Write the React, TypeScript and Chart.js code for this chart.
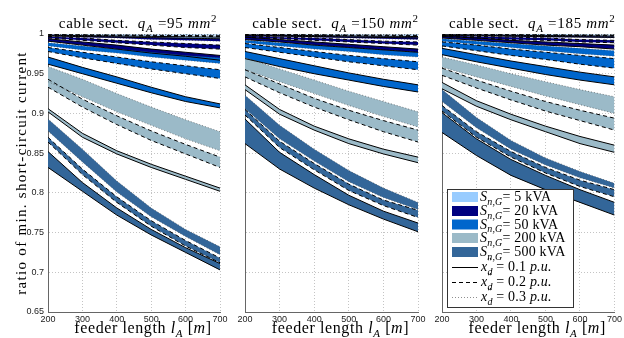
import React, { useEffect, useRef } from 'react';
import { Chart, registerables } from 'chart.js';

Chart.register(...registerables);

// ---------------- data ----------------
const feederLength = [200, 300, 400, 500, 600, 700];
const xTickLabels = ['200', '300', '400', '500', '600', '700'];
const yTickLabels = ['0.65', '0.7', '0.75', '0.8', '0.85', '0.9', '0.95', '1'];
const cableSections = ['95', '150', '185'];
const generatorSizes = ['5', '20', '50', '200', '500'];
const reactances = ['0.1', '0.2', '0.3'];

// rows: [xd=0.1 upper, xd=0.1 lower, xd=0.2 upper, xd=0.2 lower, xd=0.3 upper, xd=0.3 lower]
const q95_5kVA = [
  [0.9985, 0.998, 0.9975, 0.997, 0.9965, 0.996],
  [0.9975, 0.9968, 0.9961, 0.9954, 0.9947, 0.994],
  [0.9993, 0.999, 0.9987, 0.9984, 0.9981, 0.9978],
  [0.9987, 0.9983, 0.9979, 0.9975, 0.9971, 0.9967],
  [0.9998, 0.9997, 0.9996, 0.9995, 0.9994, 0.9993],
  [0.9995, 0.9993, 0.9991, 0.9989, 0.9987, 0.9985],
];
const q95_20kVA = [
  [0.994, 0.99, 0.986, 0.981, 0.977, 0.973],
  [0.991, 0.986, 0.981, 0.976, 0.972, 0.967],
  [0.997, 0.995, 0.992, 0.99, 0.988, 0.986],
  [0.995, 0.992, 0.989, 0.986, 0.983, 0.981],
  [0.999, 0.998, 0.997, 0.996, 0.995, 0.994],
  [0.998, 0.996, 0.995, 0.993, 0.992, 0.991],
];
const q95_50kVA = [
  [0.971, 0.958, 0.946, 0.933, 0.921, 0.912],
  [0.962, 0.95, 0.938, 0.926, 0.915, 0.907],
  [0.983, 0.977, 0.971, 0.965, 0.96, 0.955],
  [0.978, 0.97, 0.963, 0.956, 0.95, 0.944],
  [0.989, 0.985, 0.981, 0.977, 0.973, 0.97],
  [0.985, 0.98, 0.976, 0.971, 0.967, 0.963],
];
const q95_200kVA = [
  [0.906, 0.875, 0.853, 0.836, 0.821, 0.806],
  [0.902, 0.87, 0.849, 0.832, 0.817, 0.802],
  [0.943, 0.918, 0.897, 0.878, 0.861, 0.845],
  [0.933, 0.908, 0.886, 0.866, 0.849, 0.832],
  [0.959, 0.943, 0.925, 0.908, 0.892, 0.877],
  [0.94, 0.921, 0.902, 0.885, 0.868, 0.853],
];
const q95_500kVA = [
  [0.852, 0.813, 0.781, 0.754, 0.731, 0.711],
  [0.832, 0.802, 0.772, 0.747, 0.725, 0.703],
  [0.87, 0.83, 0.795, 0.765, 0.74, 0.718],
  [0.864, 0.823, 0.788, 0.758, 0.733, 0.712],
  [0.893, 0.855, 0.815, 0.781, 0.754, 0.732],
  [0.878, 0.839, 0.801, 0.77, 0.745, 0.722],
];

const q150_5kVA = [
  [0.9988, 0.9984, 0.998, 0.9976, 0.9972, 0.9968],
  [0.998, 0.9974, 0.9968, 0.9962, 0.9956, 0.995],
  [0.9994, 0.9992, 0.999, 0.9987, 0.9985, 0.9983],
  [0.999, 0.9987, 0.9984, 0.998, 0.9977, 0.9974],
  [0.9998, 0.9997, 0.9996, 0.9996, 0.9995, 0.9994],
  [0.9996, 0.9994, 0.9993, 0.9991, 0.999, 0.9988],
];
const q150_20kVA = [
  [0.996, 0.993, 0.99, 0.987, 0.984, 0.981],
  [0.993, 0.99, 0.986, 0.983, 0.98, 0.977],
  [0.998, 0.996, 0.995, 0.993, 0.991, 0.99],
  [0.996, 0.994, 0.992, 0.99, 0.988, 0.986],
  [0.999, 0.999, 0.998, 0.997, 0.997, 0.996],
  [0.998, 0.997, 0.996, 0.995, 0.994, 0.993],
];
const q150_50kVA = [
  [0.978, 0.969, 0.96, 0.951, 0.943, 0.936],
  [0.969, 0.959, 0.95, 0.942, 0.934, 0.927],
  [0.988, 0.983, 0.978, 0.973, 0.969, 0.965],
  [0.983, 0.977, 0.971, 0.965, 0.96, 0.955],
  [0.992, 0.989, 0.986, 0.983, 0.98, 0.977],
  [0.989, 0.985, 0.981, 0.978, 0.974, 0.971],
];
const q150_200kVA = [
  [0.936, 0.905, 0.884, 0.868, 0.855, 0.845],
  [0.93, 0.899, 0.879, 0.862, 0.849, 0.838],
  [0.955, 0.937, 0.919, 0.904, 0.891, 0.879],
  [0.946, 0.926, 0.908, 0.892, 0.877, 0.864],
  [0.97, 0.956, 0.942, 0.928, 0.915, 0.902],
  [0.955, 0.94, 0.925, 0.91, 0.896, 0.883],
];
const q150_500kVA = [
  [0.893, 0.851, 0.823, 0.797, 0.777, 0.762],
  [0.862, 0.83, 0.806, 0.785, 0.767, 0.751],
  [0.905, 0.865, 0.837, 0.811, 0.791, 0.778],
  [0.898, 0.857, 0.829, 0.803, 0.784, 0.769],
  [0.923, 0.885, 0.855, 0.828, 0.806, 0.788],
  [0.906, 0.868, 0.84, 0.814, 0.794, 0.779],
];

const q185_5kVA = [
  [0.999, 0.9987, 0.9984, 0.998, 0.9977, 0.9974],
  [0.9983, 0.9978, 0.9973, 0.9968, 0.9963, 0.9958],
  [0.9995, 0.9993, 0.9991, 0.9989, 0.9987, 0.9985],
  [0.9991, 0.9988, 0.9986, 0.9983, 0.998, 0.9977],
  [0.9999, 0.9998, 0.9997, 0.9996, 0.9996, 0.9995],
  [0.9996, 0.9995, 0.9994, 0.9992, 0.9991, 0.999],
];
const q185_20kVA = [
  [0.997, 0.995, 0.992, 0.99, 0.988, 0.986],
  [0.995, 0.992, 0.989, 0.986, 0.984, 0.981],
  [0.998, 0.997, 0.996, 0.995, 0.993, 0.992],
  [0.997, 0.995, 0.993, 0.992, 0.99, 0.989],
  [0.9995, 0.999, 0.9985, 0.998, 0.9975, 0.997],
  [0.999, 0.998, 0.997, 0.996, 0.996, 0.995],
];
const q185_50kVA = [
  [0.982, 0.974, 0.966, 0.959, 0.952, 0.946],
  [0.974, 0.965, 0.957, 0.949, 0.942, 0.936],
  [0.99, 0.986, 0.981, 0.977, 0.973, 0.969],
  [0.985, 0.979, 0.973, 0.968, 0.962, 0.957],
  [0.994, 0.991, 0.988, 0.985, 0.982, 0.979],
  [0.991, 0.987, 0.983, 0.979, 0.975, 0.972],
];
const q185_200kVA = [
  [0.939, 0.916, 0.899, 0.884, 0.871, 0.86],
  [0.931, 0.909, 0.892, 0.877, 0.862, 0.851],
  [0.957, 0.942, 0.928, 0.915, 0.904, 0.894],
  [0.948, 0.932, 0.917, 0.903, 0.891, 0.879],
  [0.971, 0.961, 0.95, 0.94, 0.93, 0.921],
  [0.958, 0.946, 0.934, 0.922, 0.911, 0.9],
];
const q185_500kVA = [
  [0.901, 0.868, 0.842, 0.822, 0.804, 0.788],
  [0.876, 0.847, 0.822, 0.804, 0.788, 0.772],
  [0.91, 0.877, 0.852, 0.832, 0.816, 0.804],
  [0.903, 0.87, 0.845, 0.825, 0.808, 0.795],
  [0.93, 0.895, 0.866, 0.844, 0.827, 0.812],
  [0.915, 0.882, 0.855, 0.835, 0.819, 0.806],
];

const panelData = [
  [q95_5kVA, q95_20kVA, q95_50kVA, q95_200kVA, q95_500kVA],
  [q150_5kVA, q150_20kVA, q150_50kVA, q150_200kVA, q150_500kVA],
  [q185_5kVA, q185_20kVA, q185_50kVA, q185_200kVA, q185_500kVA],
];

// ---------------- styles ----------------
const bandColors = ['#99CCFF', '#000080', '#0066CC', '#9BBAC8', '#336699'];
const edgeStyles = [
  { dash: [] as number[], color: '#000000', width: 1 },
  { dash: [4, 3], color: '#000000', width: 1 },
  { dash: [1, 2], color: 'rgba(50,50,50,0.55)', width: 1 },
];
const SERIF = '"Liberation Serif", "Times New Roman", serif';
const SANS = '"Liberation Sans", Arial, sans-serif';

const panels = [
  { left: 0, width: 232, yW: 48, padRight: 12 },
  { left: 232, width: 198, yW: 13, padRight: 12 },
  { left: 430, width: 194, yW: 12, padRight: 5 },
];
const H = 338;
const TOP = 34;
const XAXIS_H = 26;

type Seg = { t: string; i?: boolean; sub?: boolean; sup?: boolean; over?: string };

function drawRich(
  ctx: CanvasRenderingContext2D,
  segs: Seg[],
  x: number,
  y: number,
  size: number,
  align: 'left' | 'center',
  spacing = 0
) {
  const small = Math.round(size * 0.7);
  const c: any = ctx;
  ctx.save();
  c.letterSpacing = spacing + 'px';
  const fontFor = (s: Seg) => `${s.i ? 'italic ' : ''}${s.sub || s.sup ? small : size}px ${SERIF}`;
  const widths = segs.map((s) => {
    ctx.font = fontFor(s);
    let w = ctx.measureText(s.t).width;
    if (s.over) {
      ctx.font = `${small}px ${SERIF}`;
      w = Math.max(w, ctx.measureText(s.over).width);
    }
    return w;
  });
  const total = widths.reduce((a, b) => a + b, 0);
  let cx = align === 'center' ? x - total / 2 : x;
  ctx.fillStyle = '#000';
  ctx.textAlign = 'left';
  ctx.textBaseline = 'alphabetic';
  segs.forEach((s, i) => {
    ctx.font = fontFor(s);
    const dy = s.sub ? size * 0.28 : s.sup ? -size * 0.42 : 0;
    ctx.fillText(s.t, cx, y + dy);
    if (s.over) {
      ctx.font = `${small}px ${SERIF}`;
      ctx.fillText(s.over, cx, y - size * 0.45);
    }
    cx += widths[i];
  });
  ctx.restore();
}

function drawLegend(ctx: CanvasRenderingContext2D, ox: number) {
  ctx.save();
  ctx.translate(-ox, 0);
  const bx = 447, by = 189, bw = 126, bh = 118;
  ctx.fillStyle = '#ffffff';
  ctx.fillRect(bx, by, bw, bh);
  ctx.strokeStyle = '#333333';
  ctx.lineWidth = 1;
  ctx.setLineDash([]);
  ctx.strokeRect(bx + 0.5, by + 0.5, bw, bh);
  const rowY = [197, 211, 224.5, 238, 252, 267, 282, 297];
  generatorSizes.forEach((g, i) => {
    ctx.fillStyle = bandColors[i];
    ctx.fillRect(452, rowY[i] - 5, 26, 10);
    drawRich(ctx, [{ t: 'S', i: true }, { t: 'n,G', i: true, sub: true }, { t: '= ' + g + ' kVA' }], 480, rowY[i] + 4, 14, 'left', 0.2);
  });
  reactances.forEach((r, k) => {
    const y = rowY[5 + k];
    const st = edgeStyles[k];
    ctx.strokeStyle = st.color;
    ctx.lineWidth = st.width;
    ctx.setLineDash(st.dash);
    ctx.beginPath();
    ctx.moveTo(452, y + 0.5);
    ctx.lineTo(478, y + 0.5);
    ctx.stroke();
    ctx.setLineDash([]);
    drawRich(
      ctx,
      [{ t: 'x', i: true }, { t: 'd', i: true, sub: true, over: '\u2033' }, { t: ' = ' + r + ' ' }, { t: 'p.u.', i: true }],
      481,
      y + 4,
      14,
      'left',
      0.2
    );
  });
  ctx.restore();
}

function buildDatasets(p: number) {
  const ds: any[] = [];
  for (let g = 4; g >= 0; g--) {
    const rows = panelData[p][g];
    for (let k = 0; k < 3; k++) {
      const st = edgeStyles[k];
      const upper = rows[2 * k];
      const lower = rows[2 * k + 1];
      const common = {
        borderColor: st.color,
        borderWidth: st.width,
        borderDash: st.dash,
        pointRadius: 0,
        tension: 0,
        backgroundColor: bandColors[g],
      };
      ds.push({ ...common, data: feederLength.map((x, i) => ({ x, y: upper[i] })), fill: '+1' });
      ds.push({ ...common, data: feederLength.map((x, i) => ({ x, y: lower[i] })), fill: false });
    }
  }
  return ds;
}

function Panel({ idx }: { idx: number }) {
  const ref = useRef<HTMLCanvasElement | null>(null);
  const cfg = panels[idx];
  useEffect(() => {
    if (!ref.current) return;
    const textPlugin = {
      id: 'panelTexts' + idx,
      afterDraw(chart: any) {
        const { ctx, chartArea } = chart;
        const cx = (chartArea.left + chartArea.right) / 2;
        drawRich(
          ctx,
          [{ t: 'cable sect.  ' }, { t: 'q', i: true }, { t: 'A', i: true, sub: true }, { t: ' =' + cableSections[idx] + ' ' }, { t: 'mm', i: true }, { t: '2', sup: true }],
          cx + 4,
          28,
          15,
          'center',
          0.7
        );
        drawRich(
          ctx,
          [{ t: 'feeder length ' }, { t: 'l', i: true }, { t: 'A', i: true, sub: true }, { t: ' [' }, { t: 'm', i: true }, { t: ']' }],
          cx + 9,
          333,
          16,
          'center',
          0.6
        );
        if (idx === 0) {
          ctx.save();
          ctx.translate(26, (chartArea.top + chartArea.bottom) / 2);
          ctx.rotate(-Math.PI / 2);
          (ctx as any).letterSpacing = '1.3px';
          ctx.font = `15px ${SERIF}`;
          ctx.fillStyle = '#000';
          ctx.textAlign = 'center';
          ctx.textBaseline = 'alphabetic';
          ctx.fillText('ratio of min. short-circuit current', 0, 0);
          ctx.restore();
        }
        if (idx === 2) drawLegend(ctx, cfg.left);
      },
    };
    const chart = new Chart(ref.current, {
      type: 'line',
      data: { datasets: buildDatasets(idx) },
      options: {
        animation: false,
        responsive: false,
        maintainAspectRatio: false,
        events: [],
        layout: { padding: { top: TOP, right: cfg.padRight, left: 0, bottom: 0 } },
        plugins: {
          legend: { display: false },
          tooltip: { enabled: false },
          filler: { drawTime: 'beforeDatasetsDraw', propagate: false },
        } as any,
        scales: {
          x: {
            type: 'linear',
            min: 200,
            max: 700,
            afterFit: (s: any) => {
              s.height = XAXIS_H;
            },
            afterBuildTicks: (s: any) => {
              s.ticks = feederLength.map((v) => ({ value: v }));
            },
            ticks: {
              padding: 2,
              color: '#222',
              font: { family: SANS, size: 9 },
              maxRotation: 0,
              autoSkip: false,
              callback: (v: any) => {
                const i = feederLength.indexOf(Number(v));
                return i >= 0 ? xTickLabels[i] : '';
              },
            },
            grid: { color: '#c4c4c4', lineWidth: 1, drawTicks: false },
            border: { display: true, color: '#666666', width: 1, dash: [1, 2] },
          },
          y: {
            type: 'linear',
            min: 0.65,
            max: 1,
            afterFit: (s: any) => {
              s.width = cfg.yW;
            },
            afterBuildTicks: (s: any) => {
              s.ticks = yTickLabels.map((l) => ({ value: parseFloat(l) }));
            },
            ticks: {
              display: idx === 0,
              padding: 4,
              color: '#222',
              font: { family: SANS, size: 9 },
              autoSkip: false,
              callback: (v: any) => {
                const i = yTickLabels.findIndex((l) => Math.abs(parseFloat(l) - Number(v)) < 1e-6);
                return i >= 0 ? yTickLabels[i] : '';
              },
            },
            grid: { color: '#c4c4c4', lineWidth: 1, drawTicks: false },
            border: { display: true, color: '#666666', width: 1, dash: [1, 2] },
          },
        },
      } as any,
      plugins: [textPlugin],
    });
    return () => chart.destroy();
  }, [idx]);
  return (
    <canvas
      ref={ref}
      width={cfg.width}
      height={H}
      style={{ position: 'absolute', left: cfg.left, top: 0, width: cfg.width, height: H }}
    />
  );
}

export default function App() {
  return (
    <div style={{ position: 'absolute', left: 0, top: 0, width: 624, height: H, background: '#fff', overflow: 'hidden' }}>
      <Panel idx={0} />
      <Panel idx={1} />
      <Panel idx={2} />
    </div>
  );
}
